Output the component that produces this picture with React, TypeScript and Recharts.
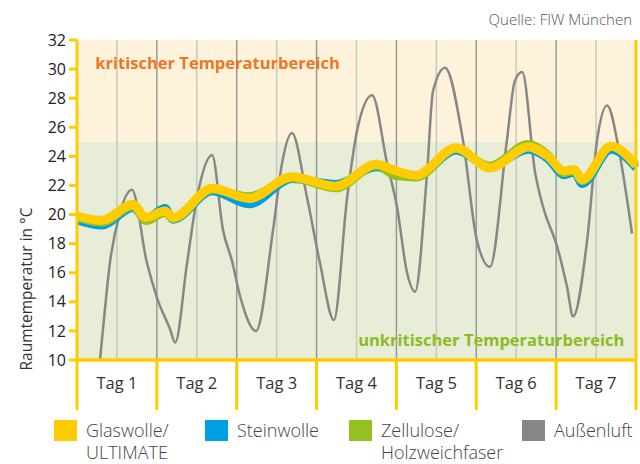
import { LineChart, Line, XAxis, YAxis, ReferenceArea, ReferenceLine } from 'recharts';

// hours since start of Tag 1 -> outdoor temperature (°C)
const outdoorHours = [6.9, 7.8, 9.9, 12.9, 16.5, 21.0, 24.0, 28.0, 29.5, 33.1, 36.1, 40.6, 43.9, 46.6, 49.0, 53.8, 58.9, 61.6, 64.6, 69.1, 73.0, 77.2, 81.2, 84.2, 88.7, 93.2, 96.2, 99.2, 101.6, 105.2, 107.0, 110.6, 116.0, 120.2, 124.1, 129.2, 131.6, 133.8, 137.7, 140.1, 144.3, 147.3, 149.1, 153.3, 156.3, 159.3, 163.2, 166.8];
const outdoorTemps = [10.0, 12.1, 16.7, 20.1, 21.7, 16.7, 14.3, 12.1, 11.2, 16.7, 21.2, 24.1, 18.9, 16.8, 14.4, 12.0, 18.9, 23.5, 25.6, 21.2, 16.7, 12.75, 21.2, 25.8, 28.2, 23.5, 20.5, 16.0, 14.7, 22.85, 28.5, 30.1, 25.1, 18.2, 16.4, 25.1, 29.2, 29.8, 22.85, 20.5, 17.8, 15.0, 13.0, 18.2, 25.1, 27.5, 24.0, 18.7];

// room temperature per insulation material
const roomHours = [0, 7.5, 16.8, 20.7, 26.5, 28.9, 40.6, 51.7, 64.6, 77.8, 89.9, 95.9, 101.9, 113.9, 124.1, 135.6, 141.6, 146.4, 149.4, 151.8, 160.5, 168];
const glaswolle = [19.9, 19.6, 20.7, 19.8, 20.25, 19.8, 21.8, 21.1, 22.6, 21.95, 23.45, 23.0, 22.7, 24.6, 23.2, 24.65, 24.0, 23.0, 23.1, 22.4, 24.7, 23.4];
const steinwolle = [19.6, 19.25, 20.45, 19.75, 20.45, 19.65, 21.6, 20.7, 22.45, 22.1, 23.25, 22.9, 22.6, 24.4, 23.3, 24.45, 23.8, 22.7, 22.9, 22.1, 24.45, 23.2];
const zellulose = [19.8, 19.45, 20.55, 19.55, 20.1, 19.7, 21.7, 21.25, 22.5, 21.8, 23.35, 22.65, 22.55, 24.5, 23.35, 24.85, 24.1, 22.85, 23.0, 22.3, 24.65, 23.35];

const dayBounds = [0, 24, 48, 72, 96, 120, 144, 168];
const midDays = [12, 36, 60, 84, 108, 132, 156];
const dayLabels = ['Tag 1', 'Tag 2', 'Tag 3', 'Tag 4', 'Tag 5', 'Tag 6', 'Tag 7'];
const yTicks = [10, 12, 14, 16, 18, 20, 22, 24, 26, 28, 30, 32];

const legendNames = [['Glaswolle/', 'ULTIMATE'], ['Steinwolle'], ['Zellulose/', 'Holzweichfaser'], ['Außenluft']];
const legendColors = ['#FFCC00', '#009FE3', '#95C11F', '#878787'];
const legendLeft = [54, 205, 349, 522];

const YELLOW = '#FFCC00';
const FONT = '"Open Sans", sans-serif';

const outdoorData = outdoorHours.map((t, i) => ({ t, temp: outdoorTemps[i] }));
const roomData = roomHours.map((t, i) => ({
    t,
    glas: glaswolle[i],
    stein: steinwolle[i],
    zell: zellulose[i],
}));

const emptyTick = () => <g />;
const dayName = (v: number) => dayLabels[Math.floor(v / 24)];

function AxisTitle(props: any) {
    const { viewBox } = props;
    const cx = viewBox.x + 26;
    const cy = viewBox.y + viewBox.height / 2 + 89;
    return (
        <text x={cx} y={cy} transform={`rotate(-90 ${cx} ${cy})`} textAnchor="middle"
            dominantBaseline="central" fontSize={15.5} fill="#333" fontFamily={FONT}>
            Raumtemperatur in °C
        </text>
    );
}

export default function App() {
    return (
        <div style={{ position: 'absolute', left: 0, top: 0, width: 640, height: 464, fontFamily: FONT, background: '#fff' }}>
            <div style={{ position: 'absolute', right: 8, top: 9, fontSize: 15, fontWeight: 300, color: '#555' }}>Quelle: FIW München</div>
            <LineChart width={640} height={464} data={roomData} margin={{ top: 40, right: 4, left: 0, bottom: 63 }}>
                {/* day boundary ticks */}
                <XAxis xAxisId={0} type="number" dataKey="t" domain={[0, 168]} ticks={dayBounds} interval={0}
                    tick={emptyTick} tickSize={50} height={2}
                    axisLine={{ stroke: YELLOW, strokeWidth: 3 }} tickLine={{ stroke: YELLOW, strokeWidth: 3 }} />
                {/* day names, centred between the ticks */}
                <XAxis xAxisId={1} type="number" dataKey="t" domain={[0, 168]} ticks={midDays} interval={0}
                    tickFormatter={dayName} axisLine={false} tickLine={false}
                    height={39} tickMargin={9} tick={{ fill: '#333', fontSize: 16.5, fontFamily: FONT }} />
                <YAxis domain={[10, 32]} ticks={yTicks} interval={0} width={77} tickSize={8} tickMargin={3}
                    allowDataOverflow
                    axisLine={{ stroke: YELLOW, strokeWidth: 3 }} tickLine={{ stroke: YELLOW, strokeWidth: 3 }}
                    tick={{ fill: '#222', fontSize: 16, fontFamily: FONT }} label={<AxisTitle />} />

                <ReferenceArea xAxisId={0} y1={25} y2={32} x1={0} x2={168} fill="#FEF3DA" fillOpacity={1} stroke="none" />
                <ReferenceArea xAxisId={0} y1={10} y2={25} x1={0} x2={168} fill="#E7EDD6" fillOpacity={1} stroke="none" />
                {midDays.map((d) => (
                    <ReferenceLine xAxisId={0} key={'m' + d} x={d} stroke="#C8C9BE" strokeWidth={1.5} />
                ))}
                {dayBounds.slice(1, -1).map((d) => (
                    <ReferenceLine xAxisId={0} key={'d' + d} x={d} stroke="#999" strokeWidth={1.5} />
                ))}
                <ReferenceArea xAxisId={0} x1={0.7} x2={105} y1={29.66} y2={31.1} fill="#FEF3DA" fillOpacity={1} stroke="none"
                    label={{ value: 'kritischer Temperaturbereich', position: 'insideLeft', offset: 16, fill: '#EE7623', fontSize: 16.5, fontWeight: 700, fontFamily: FONT }} />
                <ReferenceArea xAxisId={0} x1={56.5} x2={167.5} y1={10.48} y2={12.27} fill="#E7EDD6" fillOpacity={1} stroke="none"
                    label={{ value: 'unkritischer Temperaturbereich', position: 'insideRight', offset: 10, fill: '#8DBB25', fontSize: 16.5, fontWeight: 700, fontFamily: FONT }} />

                <Line xAxisId={0} data={outdoorData} dataKey="temp" name="Außenluft" type="monotone" stroke="#878787"
                    strokeWidth={2.5} dot={false} isAnimationActive={false} />
                <Line xAxisId={0} dataKey="stein" name="Steinwolle" type="monotone" stroke="#009FE3"
                    strokeWidth={8} dot={false} isAnimationActive={false} />
                <Line xAxisId={0} dataKey="zell" name="Zellulose/Holzweichfaser" type="monotone" stroke="#95C11F"
                    strokeWidth={8} dot={false} isAnimationActive={false} />
                <Line xAxisId={0} dataKey="glas" name="Glaswolle/ULTIMATE" type="monotone" stroke={YELLOW}
                    strokeWidth={9} dot={false} isAnimationActive={false} />
                <ReferenceLine xAxisId={0} x={168} stroke={YELLOW} strokeWidth={3} />
                <ReferenceLine xAxisId={0} y={10} stroke={YELLOW} strokeWidth={3} />
            </LineChart>
            {legendNames.map((lines, i) => (
                <div key={i} style={{ position: 'absolute', left: legendLeft[i], top: 420 }}>
                    <div style={{ position: 'absolute', left: 0, top: 0, width: 23, height: 21, background: legendColors[i] }} />
                    <div style={{ position: 'absolute', left: 32, top: -1, fontSize: 18, fontWeight: 300, lineHeight: '22px', color: '#444', whiteSpace: 'nowrap' }}>
                        {lines.map((l) => <div key={l}>{l}</div>)}
                    </div>
                </div>
            ))}
        </div>
    );
}
